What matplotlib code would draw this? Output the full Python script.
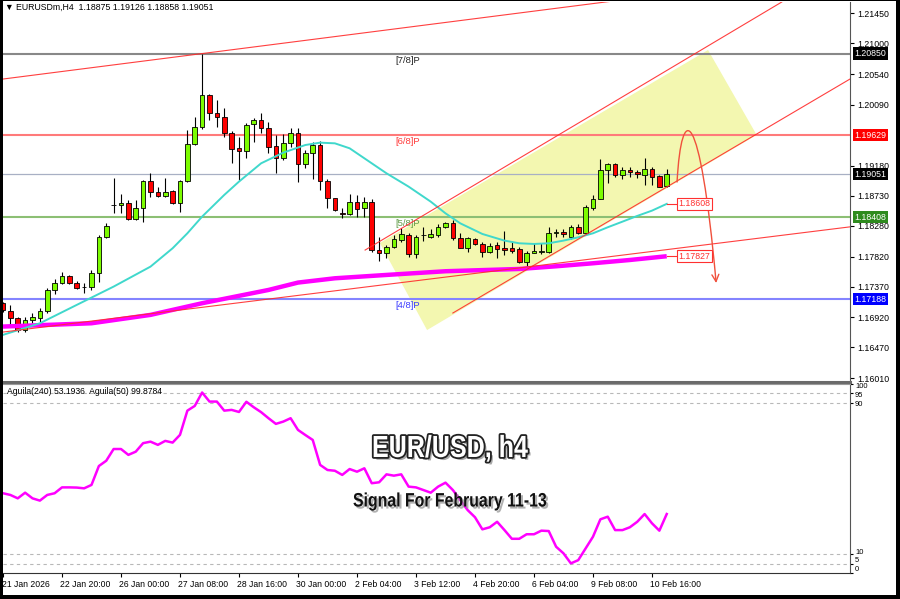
import numpy as np
import matplotlib.pyplot as plt
import matplotlib.patheffects as pe
import matplotlib.transforms as mtransforms
from matplotlib.patches import Rectangle, Polygon, FancyArrowPatch
from matplotlib.path import Path

plt.rcParams['font.family'] = ['Liberation Sans', 'DejaVu Sans']

# EURUSD H4 candles, bar 0 = 21 Jan 2026 00:00
opens = [1.17126, 1.17016, 1.16902, 1.16728, 1.16877, 1.16902, 1.17016, 1.17324, 1.17434, 1.17533,
         1.17434, 1.17364, 1.17374, 1.17573, 1.18110, 1.18587, 1.18597, 1.18617, 1.18383, 1.18552,
         1.18955, 1.18781, 1.18726, 1.18806, 1.18627, 1.18955, 1.19501, 1.19760, 1.20232, 1.19969,
         1.19909, 1.19670, 1.19437, 1.19402, 1.19800, 1.19859, 1.19735, 1.19472, 1.19288, 1.19511,
         1.19660, 1.19203, 1.19372, 1.19486, 1.18955, 1.18691, 1.18468, 1.18458, 1.18632, 1.18542,
         1.18632, 1.17921, 1.17871, 1.17971, 1.18070, 1.18145, 1.17861, 1.18140, 1.18118, 1.18144,
         1.18259, 1.18318, 1.18095, 1.17955, 1.18080, 1.18010, 1.17896, 1.17995, 1.17946, 1.17946,
         1.17931, 1.17747, 1.17881, 1.17891, 1.17896, 1.18169, 1.18184, 1.18109, 1.18259, 1.18179,
         1.18542, 1.18686, 1.19113, 1.19203, 1.19039, 1.19113, 1.19079, 1.19039, 1.19128, 1.19024,
         1.18875]
highs = [1.17151, 1.17101, 1.16917, 1.16927, 1.16977, 1.17051, 1.17349, 1.17484, 1.17598, 1.17548,
         1.17464, 1.17434, 1.17623, 1.18145, 1.18328, 1.18989, 1.18756, 1.18666, 1.18666, 1.18965,
         1.19064, 1.18865, 1.18989, 1.18816, 1.18965, 1.19710, 1.19899, 1.20850, 1.20240, 1.20157,
         1.20033, 1.19700, 1.19611, 1.19809, 1.19884, 1.19969, 1.19834, 1.19636, 1.19651, 1.19735,
         1.19735, 1.19412, 1.19536, 1.19551, 1.18975, 1.18700, 1.18542, 1.18756, 1.18741, 1.18706,
         1.18676, 1.18110, 1.17995, 1.18145, 1.18244, 1.18169, 1.18145, 1.18269, 1.18228, 1.18308,
         1.18343, 1.18368, 1.18169, 1.18119, 1.18095, 1.18045, 1.18030, 1.18045, 1.18209, 1.18045,
         1.17960, 1.17911, 1.18020, 1.18030, 1.18269, 1.18229, 1.18229, 1.18293, 1.18308, 1.18592,
         1.18736, 1.19273, 1.19223, 1.19223, 1.19163, 1.19153, 1.19113, 1.19287, 1.19153, 1.19039,
         1.19126]
lows = [1.17001, 1.16778, 1.16703, 1.16703, 1.16837, 1.16852, 1.16987, 1.17265, 1.17414, 1.17414,
        1.17334, 1.17275, 1.17324, 1.17449, 1.18095, 1.18468, 1.18468, 1.18368, 1.18368, 1.18343,
        1.18716, 1.18716, 1.18716, 1.18607, 1.18492, 1.18940, 1.19486, 1.19720, 1.19859, 1.19750,
        1.19611, 1.19223, 1.18965, 1.19288, 1.19536, 1.19660, 1.19362, 1.19064, 1.19263, 1.19462,
        1.18940, 1.19139, 1.18975, 1.18816, 1.18542, 1.18507, 1.18393, 1.18443, 1.18408, 1.18418,
        1.17896, 1.17762, 1.17797, 1.17946, 1.18045, 1.17821, 1.17797, 1.18060, 1.18093, 1.18119,
        1.18244, 1.18070, 1.17946, 1.17896, 1.17995, 1.17821, 1.17871, 1.17796, 1.17846, 1.17871,
        1.17732, 1.17647, 1.17871, 1.17861, 1.17881, 1.18109, 1.18119, 1.18080, 1.18159, 1.18169,
        1.18517, 1.18676, 1.18915, 1.19004, 1.18974, 1.19014, 1.18989, 1.18890, 1.18890, 1.18855,
        1.18858]
closes = [1.17026, 1.16902, 1.16728, 1.16877, 1.16917, 1.17016, 1.17324, 1.17434, 1.17533, 1.17424,
          1.17349, 1.17374, 1.17573, 1.18110, 1.18279, 1.18597, 1.18627, 1.18383, 1.18552, 1.18955,
          1.18781, 1.18726, 1.18781, 1.18627, 1.18955, 1.19501, 1.19760, 1.20232, 1.19969, 1.19909,
          1.19670, 1.19432, 1.19402, 1.19785, 1.19859, 1.19735, 1.19462, 1.19298, 1.19511, 1.19660,
          1.19203, 1.19372, 1.19486, 1.18955, 1.18691, 1.18510, 1.18453, 1.18632, 1.18527, 1.18632,
          1.17921, 1.17871, 1.17971, 1.18080, 1.18154, 1.17861, 1.18120, 1.18150, 1.18153, 1.18269,
          1.18318, 1.18095, 1.17955, 1.18095, 1.18010, 1.17896, 1.17980, 1.17931, 1.17921, 1.17911,
          1.17747, 1.17871, 1.17906, 1.17911, 1.18179, 1.18184, 1.18159, 1.18269, 1.18179, 1.18557,
          1.18686, 1.19113, 1.19203, 1.19039, 1.19113, 1.19079, 1.19054, 1.19128, 1.19014, 1.18865,
          1.19051]

# moving averages (bar index, price)
ma_fast_bars = [0, 5, 10, 15, 20, 23, 25, 27, 30, 32, 35, 38, 41, 43, 45, 47, 50, 52, 55, 58,
                60, 62, 65, 68, 70, 72, 74, 76, 78, 80, 82, 84, 86, 88, 90]
ma_fast_vals = [1.16654, 1.16827, 1.17101, 1.17374, 1.17672, 1.17946, 1.18169, 1.18418, 1.18741, 1.18940,
                1.19213, 1.19372, 1.19486, 1.19521, 1.19511, 1.19437, 1.19213, 1.19064, 1.18865, 1.18641,
                1.18467, 1.18318, 1.18159, 1.18060, 1.18020, 1.18010, 1.18020, 1.18060, 1.18109, 1.18169,
                1.18259, 1.18343, 1.18428, 1.18507, 1.18608]
ma_slow_bars = [0, 12, 20, 27, 36, 40, 45, 52, 60, 70, 75, 80, 85, 90]
ma_slow_vals = [1.16778, 1.16827, 1.16952, 1.17126, 1.17324, 1.17434, 1.17498, 1.17548, 1.17603, 1.17637,
                1.17677, 1.17722, 1.17771, 1.17827]

# Aguila(240) oscillator, one value per bar
aguila = [42.2, 41.3, 39.5, 42.5, 39.5, 38.3, 41.3, 42.2, 45.3, 45.3,
          45.2, 44.8, 46.6, 56.6, 59.4, 65.6, 65.6, 62.5, 64.2, 68.7,
          69.5, 67.8, 69.9, 69.0, 73.1, 85.9, 88.4, 95.5, 90.7, 90.7,
          85.9, 86.3, 85.2, 90.6, 87.7, 85.1, 81.9, 78.9, 80.1, 81.9,
          75.7, 73.0, 70.4, 57.2, 54.5, 54.1, 51.9, 55.0, 53.6, 55.4,
          47.5, 48.0, 52.2, 51.5, 52.2, 45.7, 45.3, 43.9, 42.5, 45.7,
          47.8, 43.9, 38.6, 33.3, 29.5, 23.1, 24.2, 27.1, 22.7, 18.1,
          18.1, 20.5, 20.5, 22.4, 22.2, 13.9, 10.4, 5.1, 6.8, 13.0,
          19.2, 28.4, 29.8, 22.7, 22.7, 24.2, 27.1, 31.2, 26.3, 22.4,
          31.2]

# murrey math levels
levels = [1.20850, 1.19629, 1.18408, 1.17188]
level_names = ['[7/8]P', '[6/8]P', '[5/8]P', '[4/8]P']
level_colors = ['#888888', '#ff7a7a', '#8cbf74', '#8484ff']
level_text_colors = ['#222222', '#ff3a3a', '#5f9a45', '#3a3aff']
level_box_colors = ['black', '#ff0000', '#2e8b1e', '#0000ff']
last_price = 1.19051

price_ticks = [1.21450, 1.21000, 1.20540, 1.20090, 1.19180, 1.18730,
               1.18280, 1.17820, 1.17370, 1.16920, 1.16470, 1.16010]
time_ticks = [0, 8, 16, 24, 32, 40, 48, 56, 64, 72, 80, 88]
time_labels = ['21 Jan 2026', '22 Jan 20:00', '26 Jan 00:00', '27 Jan 08:00', '28 Jan 16:00',
               '30 Jan 00:00', '2 Feb 04:00', '3 Feb 12:00', '4 Feb 20:00', '6 Feb 04:00',
               '9 Feb 08:00', '10 Feb 16:00']
osc_ticks = [100, 95, 90, 10, 5, 0]

# drawn objects, end points as (bar, price)
long_top = ([0, 90], [1.20470, 1.21736])
long_bottom = ([0, 114.85], [1.16696, 1.18265])
chan_upper = ([49.1, 105.6], [1.17919, 1.21619])
chan_lower = ([61.0, 114.85], [1.16980, 1.20470])
box_corners = [(51.1, 1.18024), (95.6, 1.20903), (102.2, 1.19635), (57.5, 1.16726)]
arrow_pts = [(91.4, 1.18934), (92.0, 1.2015), (94.5, 1.2010), (96.7, 1.17427)]


class Squeezed(pe.AbstractPathEffect):
    # narrows a text path horizontally (condensed look)
    def __init__(self, effect, sx):
        super().__init__()
        self.effect = effect
        self.sx = sx

    def draw_path(self, renderer, gc, tpath, affine, rgbFace=None):
        self.effect.draw_path(renderer, gc, tpath,
                              mtransforms.Affine2D().scale(self.sx, 1) + affine, rgbFace)


XMAX = 114.85
fig = plt.figure(figsize=(9, 5.99), dpi=100)
ax = fig.add_axes([3/900, 1-382/599, 847/900, 380/599])
ax2 = fig.add_axes([3/900, 1-573/599, 847/900, 189/599])

bars = np.arange(len(opens))
o = np.array(opens)
c = np.array(closes)

#%%----- main price panel
ax.add_patch(Polygon(box_corners, closed=True, fc='#f3f7b0', ec='none', zorder=1))

for lvl, col in zip(levels, level_colors):
    ax.axhline(lvl, color=col, lw=1.5, zorder=2)
ax.axhline(last_price, color='#a8b0c4', lw=0.9, zorder=2)
for lvl, name, tc in zip(levels, level_names, level_text_colors):
    ax.annotate(name, xy=(53.2, lvl), xytext=(0, -1.5), textcoords='offset points',
                fontsize=6.8, color=tc, va='top', ha='left', zorder=3)

ax.vlines(bars, lows, highs, color='black', lw=0.8, zorder=4)
ax.bar(bars, c - o, bottom=o, width=0.62, color=np.where(c >= o, '#7cfc00', '#ff0000'),
       edgecolor='black', linewidth=0.6, zorder=5)

ax.plot(ma_slow_bars, ma_slow_vals, color='#ff00ff', lw=3.2, solid_capstyle='butt', zorder=6)
ax.plot(ma_fast_bars, ma_fast_vals, color='#40d8cc', lw=1.4, zorder=6)

for line in [long_top, long_bottom, chan_upper, chan_lower]:
    ax.plot(line[0], line[1], color='#ff2a2a', lw=0.8, alpha=0.9, zorder=7)

path = Path(arrow_pts, [Path.MOVETO, Path.CURVE4, Path.CURVE4, Path.CURVE4])
ax.add_patch(FancyArrowPatch(path=path, arrowstyle='->,head_length=0.5,head_width=0.25',
                             mutation_scale=10, color='#f0503c', lw=1.0, zorder=8))

# callout boxes at the ends of the moving averages
for val in [ma_fast_vals[-1], ma_slow_vals[-1]]:
    ax.plot([90, 91.4], [val, val], color='#ff3030', lw=0.8, zorder=8)
    ax.text(91.6, val, f'{val:.5f}', fontsize=6.3, color='#ff3030', va='center', ha='left',
            bbox=dict(boxstyle='square,pad=0.15', fc='white', ec='#ff3030', lw=0.8), zorder=9)

ax.set_xlim(0, XMAX)
ax.set_ylim(1.15951, 1.21619)
ax.set_xticks([])
ax.yaxis.tick_right()
ax.set_yticks(price_ticks)
ax.set_yticklabels([f'{t:.5f}' for t in price_ticks])
ax.tick_params(axis='y', length=3, width=0.8, pad=2, labelsize=6.3, colors='black')
for s in ['top', 'left']:
    ax.spines[s].set_visible(False)
ax.spines['right'].set_color('#555555')
ax.spines['bottom'].set_color('#6a6a6a')
ax.spines['bottom'].set_linewidth(2.2)

trans = mtransforms.blended_transform_factory(ax.transAxes, ax.transData)
for val, col in zip(levels + [last_price], level_box_colors + ['black']):
    ax.text(1.0055, val, f'{val:.5f}', transform=trans, fontsize=6.3, color='white',
            va='center', ha='left', clip_on=False, zorder=10,
            bbox=dict(boxstyle='square,pad=0.18', fc=col, ec='none'))

#%%----- oscillator panel
for v in [95, 90, 10, 5]:
    ax2.axhline(v, color='#b8b8b8', lw=0.8, ls=(0, (3, 3)))
ax2.plot(bars, aguila, color='#ff00ff', lw=1.8, zorder=3)
ax2.set_xlim(0, XMAX)
ax2.set_ylim(0, 100)
ax2.yaxis.tick_right()
ax2.set_yticks(osc_ticks)
ax2.set_yticklabels([])
ax2.tick_params(axis='y', length=2, width=0.8)
# crowded labels at both ends are nudged apart a little
trans2 = mtransforms.blended_transform_factory(ax2.transAxes, ax2.transData)
for t, dy in zip(osc_ticks, [-1.5, -1.2, -0.8, 1.5, 2.0, 2.6]):
    ax2.annotate(str(t), xy=(1.006, t), xycoords=trans2, xytext=(0, dy), textcoords='offset points',
                 fontsize=5.4, va='center', ha='left', annotation_clip=False)
ax2.set_xticks(time_ticks)
ax2.set_xticklabels(time_labels, ha='left')
ax2.tick_params(axis='x', length=3, width=0.8, pad=2, labelsize=6.2)
shift = mtransforms.ScaledTranslation(-1.5/100, 0, fig.dpi_scale_trans)
for lab in ax2.get_xticklabels():
    lab.set_transform(lab.get_transform() + shift)
ax2.spines['left'].set_visible(False)
ax2.spines['top'].set_color('#9a9a9a')
ax2.spines['right'].set_color('#555555')
ax2.spines['bottom'].set_color('#333333')

fig.text(7/900, 1-391/599, 'Aguila(240) 53.1936  Aguila(50) 99.8784', fontsize=6.2,
         va='center', ha='left')
fig.text(5/900, 1-7/599, '\u25bc EURUSDm,H4  1.18875 1.19126 1.18858 1.19051', fontsize=6.3,
         va='center', ha='left')

title_fx = [pe.SimplePatchShadow(offset=(2, -2), shadow_rgbFace='#707070', alpha=0.6),
            pe.Stroke(linewidth=2.6, foreground='#222222'), pe.Normal()]
fig.text(372/900, 1-449/599, 'EUR/USD, h4', fontsize=22, fontweight='bold', color='white',
         ha='left', va='center', path_effects=[Squeezed(e, 0.82) for e in title_fx])
sub_fx = [pe.SimplePatchShadow(offset=(1.5, -1.5), shadow_rgbFace='#909090', alpha=0.7),
          pe.Normal()]
fig.text(353/900, 1-502/599, 'Signal For February 11-13', fontsize=14, fontweight='bold',
         color='#111111', ha='left', va='center',
         path_effects=[Squeezed(e, 0.815) for e in sub_fx])

# black frame round the picture
for rect in [(0, 0, 3/900, 1), (0, 0, 1, 4/599), (896/900, 0, 4/900, 1), (0, 1-1/599, 1, 1/599)]:
    fig.add_artist(Rectangle(rect[:2], rect[2], rect[3], transform=fig.transFigure,
                             fc='black', ec='none', zorder=20))

fig.savefig('out.png', dpi=100, facecolor='white')
